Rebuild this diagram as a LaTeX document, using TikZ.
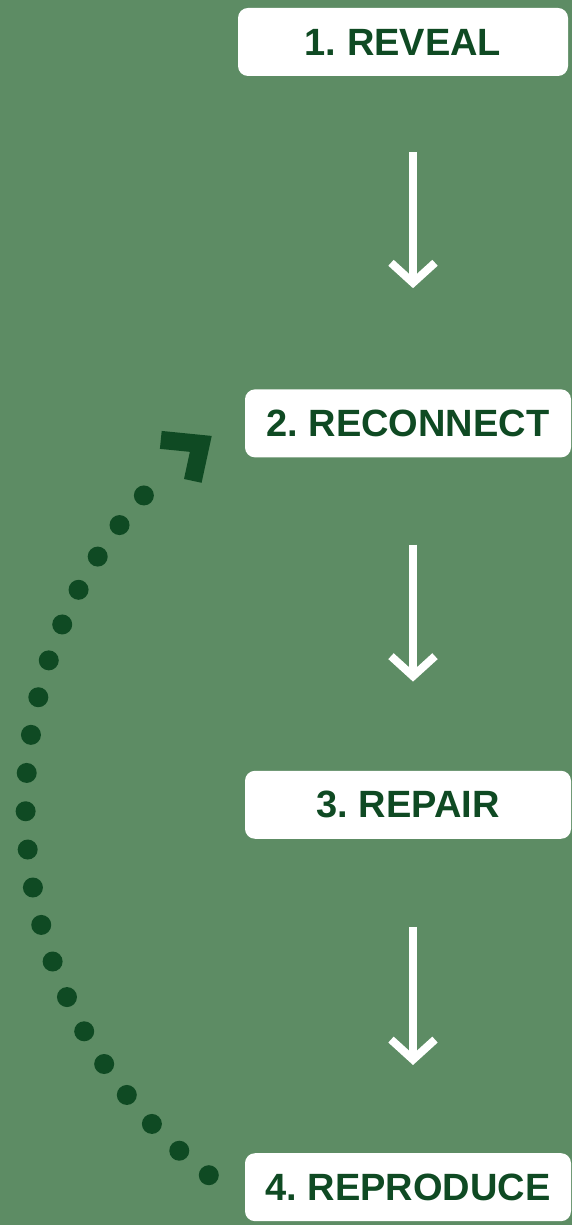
\documentclass[tikz,border=0pt]{standalone}
\usepackage{fontspec}
\setmainfont{Liberation Sans}
\usepackage{tikz}
\usetikzlibrary{arrows.meta, positioning}
\definecolor{bggreen}{HTML}{5D8C64}
\definecolor{darkgreen}{HTML}{0F4A23}
\frenchspacing

\begin{document}
\begin{tikzpicture}[
    x=1pt, y=1pt,
    node distance=313pt,
    stage/.style={rectangle, fill=white, rounded corners=10pt, minimum width=326pt, minimum height=68pt, inner sep=0pt, align=center, text=darkgreen, font=\fontsize{38}{45}\selectfont\bfseries},
    flow/.style={draw=white, line width=8pt, -{Straight Barb[length=20pt, width=44pt]}},
    dotline/.style={draw=darkgreen, line width=20pt, line cap=round, dash pattern=on 0pt off 38.34pt},
    loophead/.style={draw=darkgreen, line width=18pt, line join=miter}
]
    % background
    \fill[bggreen] (0,0) rectangle (572,1225);
    \useasboundingbox (0,0) rectangle (572,1225);

    % stages
    \node[stage, minimum width=330pt] (reveal) at (403,1183) {1. REVEAL};
    \node[stage, below=313pt of reveal, xshift=5pt] (reconnect) {2. RECONNECT};
    \node[stage, below=of reconnect] (repair) {3. REPAIR};
    \node[stage, below=314pt of repair] (reproduce) {4. REPRODUCE};

    % arrows
    \coordinate (axis) at (413,0);
    \draw[flow, shorten <=76pt, shorten >=101pt] (reveal.south -| axis) -- (reconnect.north -| axis);
    \draw[flow, shorten <=87pt, shorten >=89pt] (reconnect.south -| axis) -- (repair.north -| axis);
    \draw[flow, shorten <=88pt, shorten >=88pt] (repair.south -| axis) -- (reproduce.north -| axis);

    % loop back
    \coordinate (loopstart) at ([xshift=-36pt, yshift=12pt]reproduce.west);
    \coordinate (loopend) at ([xshift=-44pt, yshift=-20.5pt]reconnect.west);
    \draw[dotline] (loopstart) arc[start angle=232.7, end angle=133.5, radius=465pt];
    \draw[loophead] ([shift={(-40pt,4pt)}]loopend) -- (loopend) -- ([shift={(-8pt,-37pt)}]loopend);
\end{tikzpicture}
\end{document}
